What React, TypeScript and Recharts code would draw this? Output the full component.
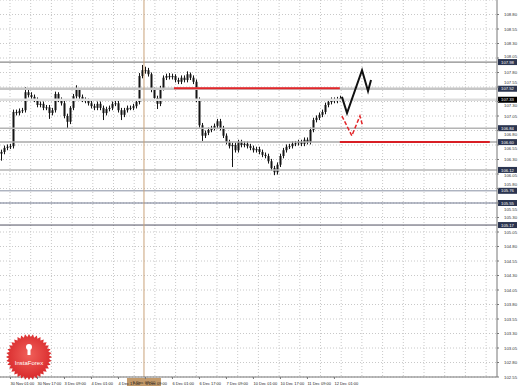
import React from "react";
import {
  ComposedChart,
  Bar,
  Scatter,
  XAxis,
  YAxis,
  CartesianGrid,
  ReferenceLine,
} from "recharts";

// H1 candles (one candle per slot)
const opens = [
  106.40, 106.43, 106.50, 106.52, 106.53, 107.12, 107.10, 107.14, 107.15, 107.46,
  107.41, 107.38, 107.33, 107.24, 107.26, 107.19, 107.20, 107.10, 107.15, 107.43,
  107.33, 107.27, 107.05, 106.95, 107.19, 107.39, 107.50, 107.38, 107.33, 107.31,
  107.27, 107.22, 107.19, 107.26, 107.19, 107.10, 107.17, 107.19, 107.26, 107.27,
  107.15, 107.07, 107.15, 107.19, 107.19, 107.22, 107.29, 107.74, 107.84, 107.84,
  107.77, 107.50, 107.36, 107.26, 107.53, 107.71, 107.74, 107.72, 107.74, 107.67,
  107.64, 107.71, 107.67, 107.77, 107.71, 107.64, 107.33, 106.89, 106.71, 106.76,
  106.81, 106.84, 106.88, 106.96, 106.84, 106.71, 106.60, 106.53, 106.55, 106.46,
  106.60, 106.55, 106.57, 106.53, 106.50, 106.46, 106.48, 106.43, 106.38, 106.36,
  106.27, 106.15, 106.08, 106.21, 106.36, 106.46, 106.52, 106.53, 106.57, 106.58,
  106.60, 106.57, 106.64, 106.60, 106.81, 106.98, 107.02, 107.07, 107.12, 107.24,
  107.29, 107.33, 107.31, 107.34,
];
const highs = [
  106.47, 106.54, 106.56, 106.57, 107.16, 107.16, 107.18, 107.19, 107.55, 107.50,
  107.46, 107.42, 107.37, 107.30, 107.30, 107.24, 107.24, 107.19, 107.47, 107.46,
  107.37, 107.31, 107.09, 107.22, 107.43, 107.58, 107.53, 107.42, 107.37, 107.35,
  107.31, 107.26, 107.30, 107.30, 107.23, 107.21, 107.23, 107.30, 107.31, 107.31,
  107.19, 107.19, 107.23, 107.23, 107.26, 107.33, 107.79, 107.93, 107.90, 107.88,
  107.80, 107.54, 107.40, 107.57, 107.75, 107.78, 107.79, 107.78, 107.77, 107.71,
  107.75, 107.75, 107.82, 107.80, 107.75, 107.68, 107.37, 106.93, 106.80, 106.85,
  106.88, 106.92, 107.00, 107.00, 106.88, 106.75, 106.64, 106.59, 106.59, 106.64,
  106.64, 106.61, 106.61, 106.57, 106.54, 106.52, 106.52, 106.47, 106.42, 106.40,
  106.31, 106.19, 106.25, 106.40, 106.50, 106.56, 106.57, 106.61, 106.62, 106.64,
  106.64, 106.68, 106.68, 106.85, 107.02, 107.06, 107.11, 107.16, 107.28, 107.33,
  107.37, 107.37, 107.38, 107.40,
];
const lows = [
  106.28, 106.39, 106.46, 106.48, 106.49, 107.06, 107.06, 107.10, 107.11, 107.37,
  107.34, 107.29, 107.20, 107.20, 107.15, 107.15, 107.00, 107.06, 107.11, 107.29,
  107.23, 107.01, 106.83, 106.91, 107.15, 107.35, 107.34, 107.29, 107.27, 107.23,
  107.18, 107.15, 107.15, 107.15, 106.98, 107.06, 107.13, 107.15, 107.22, 107.11,
  106.98, 107.03, 107.11, 107.15, 107.15, 107.18, 107.25, 107.70, 107.78, 107.73,
  107.46, 107.32, 107.17, 107.22, 107.49, 107.67, 107.68, 107.68, 107.63, 107.60,
  107.60, 107.63, 107.63, 107.67, 107.60, 107.29, 106.85, 106.62, 106.67, 106.72,
  106.77, 106.80, 106.84, 106.80, 106.67, 106.56, 106.49, 106.17, 106.42, 106.42,
  106.51, 106.51, 106.49, 106.46, 106.42, 106.42, 106.39, 106.34, 106.32, 106.23,
  106.11, 106.03, 106.04, 106.17, 106.32, 106.42, 106.48, 106.49, 106.53, 106.54,
  106.53, 106.53, 106.56, 106.56, 106.77, 106.94, 106.98, 107.03, 107.08, 107.20,
  107.25, 107.27, 107.27, 107.30,
];
const closes = [
  106.43, 106.50, 106.52, 106.53, 107.12, 107.10, 107.14, 107.15, 107.46, 107.41,
  107.38, 107.33, 107.24, 107.26, 107.19, 107.20, 107.10, 107.15, 107.43, 107.33,
  107.27, 107.05, 106.95, 107.19, 107.39, 107.50, 107.38, 107.33, 107.31, 107.27,
  107.22, 107.19, 107.26, 107.19, 107.10, 107.17, 107.19, 107.26, 107.27, 107.15,
  107.07, 107.15, 107.19, 107.19, 107.22, 107.29, 107.74, 107.84, 107.84, 107.77,
  107.50, 107.36, 107.26, 107.53, 107.71, 107.74, 107.72, 107.74, 107.67, 107.64,
  107.71, 107.67, 107.77, 107.71, 107.64, 107.33, 106.89, 106.71, 106.76, 106.81,
  106.84, 106.88, 106.96, 106.84, 106.71, 106.60, 106.53, 106.55, 106.46, 106.60,
  106.55, 106.57, 106.53, 106.50, 106.46, 106.48, 106.43, 106.38, 106.36, 106.27,
  106.15, 106.08, 106.21, 106.36, 106.46, 106.52, 106.53, 106.57, 106.58, 106.60,
  106.57, 106.64, 106.60, 106.81, 106.98, 107.02, 107.07, 107.12, 107.24, 107.29,
  107.33, 107.31, 107.34, 107.36,
];

const timeTicks = [3, 12, 21, 30, 39, 48, 57, 66, 75, 84, 93, 102, 111];
const timeLabels = [
  "30 Nov 01:00", "30 Nov 17:00", "3 Dec 09:00", "4 Dec 01:00", "4 Dec 17:00",
  "5 Dec 09:00", "6 Dec 01:00", "6 Dec 17:00", "7 Dec 09:00", "10 Dec 01:00",
  "10 Dec 17:00", "11 Dec 09:00", "12 Dec 01:00",
];
const priceTicks = [
  102.55, 102.8, 103.05, 103.3, 103.55, 103.8, 104.05, 104.3, 104.55, 104.8,
  105.05, 105.3, 105.55, 105.8, 106.05, 106.3, 106.55, 106.8, 107.05, 107.3,
  107.55, 107.8, 108.05, 108.3, 108.55, 108.8,
];

// horizontal levels drawn on the chart
const levels = [107.98, 107.52, 107.33, 106.84, 106.6, 106.12, 105.76, 105.55, 105.17];
const levelStyles = [
  { stroke: "#8a8a8a", w: 1.2, box: "#2b3550" },
  { stroke: "#c6c6c6", w: 2.5, box: "#2b3550" },
  { stroke: "#dedede", w: 2.5, box: "#000000" },
  { stroke: "#b4b4b4", w: 1.5, box: "#2b3550" },
  { stroke: "#a8a8a8", w: 1.5, box: "#2b3550" },
  { stroke: "#b4b4b4", w: 1.5, box: "#2b3550" },
  { stroke: "#8890a4", w: 1, box: "#2b3550" },
  { stroke: "#707890", w: 1, box: "#2b3550" },
  { stroke: "#505060", w: 1, box: "#2b3550" },
];

// red support / resistance segments
const upperRed = { price: 107.53, from: 57.5, to: 112.8 };
const lowerRed = { price: 106.6, from: 112.8, to: 162.8 };
const markerX = 47.5;

// projected paths
const forecastX = [113.5, 115.2, 120.2, 122.2, 123.2];
const forecastY = [107.38, 107.1, 107.84, 107.48, 107.67];
const altX = [113.5, 116.8, 119.5, 120.3];
const altY = [107.05, 106.71, 107.05, 106.9];

const PX_PER_UNIT = 58; // approx vertical scale, used only to nudge labels off the price boxes

const candles = opens.map((o, i) => ({
  i,
  o,
  h: highs[i],
  l: lows[i],
  c: closes[i],
  range: [lows[i], highs[i]],
}));
const forecast = forecastX.map((x, k) => ({ i: x, p: forecastY[k] }));
const alt = altX.map((x, k) => ({ i: x, p: altY[k] }));

const Candle = (props: any) => {
  const { x, y, width, height, payload } = props;
  if (x == null || y == null) return null;
  const cx = Math.round(x + width / 2) + 0.5;
  const top = Math.min(y, y + height);
  const h = Math.abs(height);
  const k = h / (payload.h - payload.l || 1);
  const bTop = top + (payload.h - Math.max(payload.o, payload.c)) * k;
  const bBot = top + (payload.h - Math.min(payload.o, payload.c)) * k;
  return (
    <g>
      <line x1={cx} x2={cx} y1={top} y2={top + h} stroke="#151515" strokeWidth={1} />
      <rect x={cx - 1} y={bTop} width={2} height={Math.max(1, bBot - bTop)} fill="#151515" />
    </g>
  );
};

const PriceBox = (props: any) => {
  const { viewBox, price, fill } = props;
  if (!viewBox) return null;
  const { x, y, width } = viewBox;
  const bx = x + width + 1;
  return (
    <g>
      <rect x={bx} y={y - 3} width={19} height={6} fill={fill} />
      <text x={bx + 9.5} y={y + 1.6} fontSize={4.2} fill="#ffffff" textAnchor="middle" fontFamily="Liberation Sans">
        {price.toFixed(2)}
      </text>
    </g>
  );
};

const TimeBox = (props: any) => {
  const { viewBox } = props;
  if (!viewBox) return null;
  const { x, y, height } = viewBox;
  return (
    <g>
      <rect x={x - 17} y={y + height + 1} width={34} height={8} fill="#c39a6b" />
      <text x={x} y={y + height + 7} fontSize={4.2} fill="#3a2a1a" textAnchor="middle" fontFamily="Liberation Sans">
        5 Dec 08:00
      </text>
    </g>
  );
};

const TimeTick = (props: any) => {
  const { x, y, payload } = props;
  const idx = timeTicks.indexOf(payload.value);
  return (
    <text x={x} y={y + 4} fontSize={4} fill="#222" textAnchor="start" fontFamily="Liberation Sans">
      {timeLabels[idx]}
    </text>
  );
};

const PriceTick = (props: any) => {
  const { x, y, payload } = props;
  // push the label just clear of any price box sitting on top of it
  let shift = 0;
  levels.forEach((L) => {
    const d = (L - payload.value) * PX_PER_UNIT;
    if (Math.abs(d) < 6) shift = (d >= 0 ? 1 : -1) * (6 - Math.abs(d));
  });
  return (
    <text x={x + 3} y={y + 1.5 + shift} fontSize={4.3} fill="#333" textAnchor="start" fontFamily="Liberation Sans">
      {payload.value.toFixed(2)}
    </text>
  );
};

const NoDot = () => <g />;

const Logo = () => {
  const pts: string[] = [];
  const n = 36;
  for (let k = 0; k < n * 2; k++) {
    const r = k % 2 === 0 ? 23 : 20;
    const a = (Math.PI * k) / n;
    pts.push(`${29 + r * Math.cos(a)},${357 + r * Math.sin(a)}`);
  }
  return (
    <svg width={518} height={388} style={{ position: "absolute", left: 0, top: 0, pointerEvents: "none" }}>
      <defs>
        <radialGradient id="lg" cx="50%" cy="45%" r="55%">
          <stop offset="0%" stopColor="#f0605a" />
          <stop offset="100%" stopColor="#d8282a" />
        </radialGradient>
      </defs>
      <polygon points={pts.join(" ")} fill="url(#lg)" />
      <circle cx={29} cy={347} r={3} fill="#fff" />
      <rect x={27.5} y={349} width={3} height={6} fill="#fff" />
      <text x={29} y={365} fontSize={6} fill="#fff" textAnchor="middle" fontFamily="Liberation Sans">
        InstaForex
      </text>
    </svg>
  );
};

export default function App() {
  return (
    <div style={{ position: "absolute", left: 0, top: 0, width: 518, height: 388, background: "#fff" }}>
      <ComposedChart
        width={518}
        height={388}
        data={candles}
        margin={{ top: 0, right: 0, bottom: 0, left: 0 }}
      >
        <CartesianGrid
          stroke="#c8c8c8"
          strokeDasharray="1 2"
          verticalCoordinatesGenerator={() =>
            Array.from({ length: 24 }, (_, k) => 10 + k * 20.7)
          }
        />
        <XAxis
          dataKey="i"
          type="number"
          domain={[-0.5, 165.2]}
          ticks={timeTicks}
          tick={<TimeTick />}
          tickLine={{ stroke: "#777" }}
          tickSize={2}
          height={11}
          axisLine={{ stroke: "#777" }}
          allowDataOverflow
          interval={0}
        />
        <YAxis
          orientation="right"
          type="number"
          domain={[102.55, 109.05]}
          ticks={priceTicks}
          tick={<PriceTick />}
          tickLine={{ stroke: "#777" }}
          tickSize={2}
          width={21}
          axisLine={{ stroke: "#777" }}
          allowDataOverflow
          interval={0}
        />
        {levels.map((p, k) => (
          <ReferenceLine
            key={p}
            y={p}
            stroke={levelStyles[k].stroke}
            strokeWidth={levelStyles[k].w}
            label={<PriceBox price={p} fill={levelStyles[k].box} />}
          />
        ))}
        <ReferenceLine x={markerX} stroke="#c9a27a" strokeWidth={1} label={<TimeBox />} />
        <Bar dataKey="range" barSize={2} shape={<Candle />} isAnimationActive={false} />
        <ReferenceLine
          segment={[
            { x: upperRed.from, y: upperRed.price },
            { x: upperRed.to, y: upperRed.price },
          ]}
          stroke="#e3262a"
          strokeWidth={2}
        />
        <ReferenceLine
          segment={[
            { x: lowerRed.from, y: lowerRed.price },
            { x: lowerRed.to, y: lowerRed.price },
          ]}
          stroke="#d81e24"
          strokeWidth={2}
        />
        <Scatter
          data={forecast}
          dataKey="p"
          line={{ stroke: "#111", strokeWidth: 2 }}
          shape={<NoDot />}
          isAnimationActive={false}
        />
        <Scatter
          data={alt}
          dataKey="p"
          line={{ stroke: "#e3262a", strokeWidth: 1.5, strokeDasharray: "4 2" }}
          shape={<NoDot />}
          isAnimationActive={false}
        />
      </ComposedChart>
      <Logo />
    </div>
  );
}
